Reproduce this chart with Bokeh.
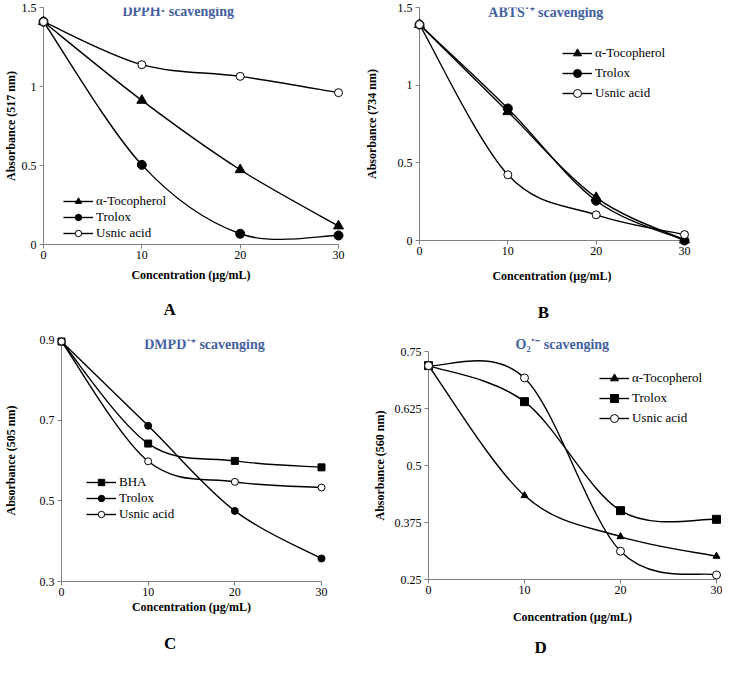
from bokeh.plotting import figure
from bokeh.models import Label, Legend, LegendItem, LinearAxis, FixedTicker
from bokeh.layouts import column, row
from bokeh.embed import file_html
from bokeh.resources import INLINE

# ---------------- data ----------------
conc = [0, 10, 20, 30]
x_ticks = [0, 10, 20, 30]

# A: DPPH scavenging (517 nm)
a_toco = [1.41, 0.912, 0.473, 0.117]
a_trolox = [1.41, 0.504, 0.068, 0.057]
a_usnic = [1.41, 1.138, 1.064, 0.961]
a_yticks = [0, 0.5, 1, 1.5]
a_ylabels = ["0", "0.5", "1", "1.5"]

# B: ABTS scavenging (734 nm)
b_toco = [1.39, 0.829, 0.276, 0.003]
b_trolox = [1.39, 0.850, 0.256, 0.0]
b_usnic = [1.39, 0.423, 0.165, 0.038]
b_yticks = [0, 0.5, 1, 1.5]
b_ylabels = ["0", "0.5", "1", "1.5"]

# C: DMPD scavenging (505 nm)
c_bha = [0.895, 0.642, 0.599, 0.583]
c_trolox = [0.895, 0.686, 0.475, 0.357]
c_usnic = [0.895, 0.598, 0.547, 0.533]
c_yticks = [0.3, 0.5, 0.7, 0.9]
c_ylabels = ["0.3", "0.5", "0.7", "0.9"]

# D: superoxide scavenging (560 nm)
d_toco = [0.719, 0.434, 0.344, 0.301]
d_trolox = [0.719, 0.640, 0.401, 0.382]
d_usnic = [0.719, 0.692, 0.312, 0.260]
d_yticks = [0.25, 0.375, 0.5, 0.625, 0.75]
d_ylabels = ["0.25", "0.375", "0.5", "0.625", "0.75"]

FONT = "Liberation Serif"
TITLE_COLOR = "#4461a0"
AXIS_COLOR = "#808080"
NBSP = "\u00a0"


def smooth(xs, ys):
    """Catmull-Rom style cubic Bezier segments through the data points."""
    n = len(xs)
    out = dict(x0=[], y0=[], x1=[], y1=[], cx0=[], cy0=[], cx1=[], cy1=[])
    for i in range(n - 1):
        pm = max(i - 1, 0)
        pp = min(i + 2, n - 1)
        out["x0"].append(xs[i]); out["y0"].append(ys[i])
        out["x1"].append(xs[i + 1]); out["y1"].append(ys[i + 1])
        out["cx0"].append(xs[i] + (xs[i + 1] - xs[pm]) / 6.0)
        out["cy0"].append(ys[i] + (ys[i + 1] - ys[pm]) / 6.0)
        out["cx1"].append(xs[i + 1] - (xs[pp] - xs[i]) / 6.0)
        out["cy1"].append(ys[i + 1] - (ys[pp] - ys[i]) / 6.0)
    return out


def make_panel(width, height, left, right, top, bottom, yr, yticks, ylabels, ylabel,
               ylabel_standoff, series, title, title_xy, letter, letter_pad,
               legend_loc, legend_row_h, xlabel_standoff, letter_standoff,
               title_above=False):
    p = figure(width=width, height=height, x_range=(0, 30), y_range=yr,
               output_backend="svg", toolbar_location=None,
               min_border_left=left, min_border_right=right,
               min_border_top=top, min_border_bottom=bottom,
               background_fill_color="white", border_fill_color="white")
    p.outline_line_color = None
    p.grid.visible = False
    for ax in (p.xaxis, p.yaxis):
        ax.axis_line_color = AXIS_COLOR
        ax.major_tick_line_color = AXIS_COLOR
        ax.major_tick_out = 4
        ax.major_tick_in = 0
        ax.minor_tick_line_color = None
        ax.major_label_text_font = FONT
        ax.major_label_text_font_size = "12px"
        ax.major_label_text_color = "black"
        ax.axis_label_text_font = FONT
        ax.axis_label_text_font_style = "bold"
        ax.axis_label_text_font_size = "12px"
        ax.axis_label_text_color = "black"
    p.xaxis.ticker = FixedTicker(ticks=x_ticks)
    p.xaxis.major_label_standoff = 2
    p.xaxis.axis_label = "Concentration (µg/mL)"
    p.xaxis.axis_label_standoff = xlabel_standoff
    p.yaxis.ticker = FixedTicker(ticks=yticks)
    p.yaxis.major_label_overrides = {t: s for t, s in zip(yticks, ylabels)}
    p.yaxis.major_label_standoff = 3
    p.yaxis.axis_label = ylabel
    p.yaxis.axis_label_standoff = ylabel_standoff

    # panel letter: label of an extra, otherwise invisible axis below the x axis
    # (trailing no-break spaces shift the centred letter to the left)
    letter_axis = LinearAxis(ticker=FixedTicker(ticks=[]),
                             axis_line_color=None, major_tick_out=0, major_tick_in=0,
                             major_tick_line_color=None, minor_tick_line_color=None,
                             major_label_standoff=0, major_label_text_font_size="1px",
                             axis_label=letter + NBSP * letter_pad,
                             axis_label_standoff=letter_standoff,
                             axis_label_text_font=FONT, axis_label_text_font_style="bold",
                             axis_label_text_font_size="17px", axis_label_text_color="black")
    p.add_layout(letter_axis, "below")

    items = []
    for name, ys, marker, fill, size in series:
        seg = smooth(conc, ys)
        br = p.bezier(x0=seg["x0"], y0=seg["y0"], x1=seg["x1"], y1=seg["y1"],
                      cx0=seg["cx0"], cy0=seg["cy0"], cx1=seg["cx1"], cy1=seg["cy1"],
                      line_color="black", line_width=1.4)
        sr = p.scatter(x=conc, y=ys, marker=marker, size=size, fill_color=fill,
                       line_color="black", line_width=1.0, level="overlay")
        items.append(LegendItem(label=name, renderers=[br, sr]))

    legend = Legend(items=items, location=legend_loc, padding=0, margin=0, spacing=0,
                    glyph_width=30, glyph_height=legend_row_h, label_height=legend_row_h,
                    label_standoff=3, border_line_color=None,
                    background_fill_alpha=0.0,
                    label_text_font=FONT, label_text_font_size="13px",
                    label_text_color="black")
    p.add_layout(legend, "center")

    if title_above:
        p.title.text = title
        p.title.align = "left"
        p.title.text_font = FONT
        p.title.text_font_style = "bold"
        p.title.text_font_size = "14px"
        p.title.text_color = TITLE_COLOR
        p.title.standoff = 0
        p.title.offset = title_xy[0]
    else:
        p.add_layout(Label(x=title_xy[0], y=title_xy[1], text=title, text_align="center",
                           text_baseline="middle", text_font=FONT, text_font_style="bold",
                           text_font_size="14px", text_color=TITLE_COLOR))
    return p


pa = make_panel(361, 324, 43, 23, 7, 80, (0, 1.5), a_yticks, a_ylabels,
                "Absorbance (517 nm)", 1,
                [("α-Tocopherol", a_toco, "triangle", "black", 10),
                 ("Trolox", a_trolox, "circle", "black", 9),
                 ("Usnic acid", a_usnic, "circle", "white", 8)],
                "DPPH· scavenging", (13.7, 1.475), "A", 10, (20, 3), 16, 6, 15)

pb = make_panel(361, 324, 53, 38, 7, 80, (0, 1.5), b_yticks, b_ylabels,
                "Absorbance (734 nm)", 16,
                [("α-Tocopherol", b_toco, "triangle", "black", 10),
                 ("Trolox", b_trolox, "circle", "black", 9),
                 ("Usnic acid", b_usnic, "circle", "white", 8)],
                "ABTS˙⁺ scavenging", (14.3, 1.47), "B", 4, (143, 137), 20, 11, 17)

pc = make_panel(361, 335, 58, 40, 15, 78, (0.3, 0.9), c_yticks, c_ylabels,
                "Absorbance (505 nm)", 19,
                [("BHA", c_bha, "square", "black", 7),
                 ("Trolox", c_trolox, "circle", "black", 7),
                 ("Usnic acid", c_usnic, "circle", "white", 7)],
                "DMPD˙⁺ scavenging", (16.5, 0.888), "C", 10, (25, 59), 16, 1, 17)

pd_ = make_panel(361, 335, 67, 6, 27, 78, (0.25, 0.75), d_yticks, d_ylabels,
                 "Absorbance (560 nm)", 5,
                 [("α-Tocopherol", d_toco, "triangle", "black", 7),
                  ("Trolox", d_trolox, "square", "black", 8),
                  ("Usnic acid", d_usnic, "circle", "white", 8)],
                 "O₂˙⁻ scavenging", (87, 0), "D", 15, (171, 151), 20, 13, 11,
                 title_above=True)

p = column(row(column(pa), column(pb)), row(column(pc), column(pd_)))

open("out.html", "w").write(file_html(p, INLINE))
